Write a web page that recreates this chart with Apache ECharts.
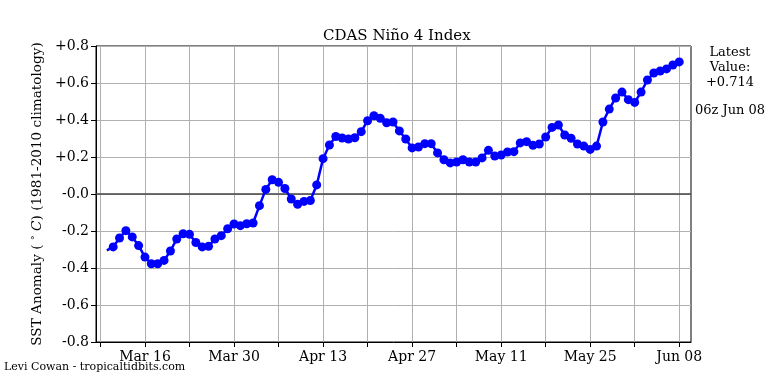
<!DOCTYPE html>
<html>
<head>
<meta charset="utf-8">
<script src="https://cdn.jsdelivr.net/npm/echarts@6/dist/echarts.min.js"></script>
<style>
html,body{margin:0;padding:0;background:#fff;}
#chart{width:768px;height:384px;}
</style>
</head>
<body>
<div id="chart"></div>
<script>
// ---- data ----
var startDate = '2023-03-10';           // first value's date (line start, no marker)
var values = [
  -0.305,
  -0.286, -0.238, -0.198, -0.232, -0.279, -0.341, -0.377, -0.377, -0.359, -0.308,
  -0.243, -0.215, -0.218, -0.262, -0.286, -0.283, -0.243, -0.225, -0.188, -0.162,
  -0.171, -0.161, -0.157, -0.063, 0.025, 0.077, 0.063, 0.030, -0.027, -0.056,
  -0.040, -0.035, 0.049, 0.191, 0.265, 0.311, 0.303, 0.297, 0.304, 0.337,
  0.396, 0.423, 0.409, 0.385, 0.389, 0.341, 0.297, 0.249, 0.254, 0.272,
  0.272, 0.222, 0.185, 0.168, 0.173, 0.185, 0.173, 0.173, 0.195, 0.236,
  0.205, 0.211, 0.227, 0.229, 0.276, 0.283, 0.263, 0.270, 0.308, 0.360,
  0.373, 0.319, 0.301, 0.270, 0.259, 0.241, 0.259, 0.389, 0.459, 0.519,
  0.551, 0.510, 0.495, 0.551, 0.616, 0.654, 0.665, 0.676, 0.697, 0.714
];
var gridDates = ['2023-03-09','2023-03-16','2023-03-23','2023-03-30','2023-04-06','2023-04-13',
  '2023-04-20','2023-04-27','2023-05-04','2023-05-11','2023-05-18','2023-05-25','2023-06-01','2023-06-08'];
var labelDates = ['2023-03-16','2023-03-30','2023-04-13','2023-04-27','2023-05-11','2023-05-25','2023-06-08'];
var tickLabels = ['Mar 16','Mar 30','Apr 13','Apr 27','May 11','May 25','Jun 08'];
var xMinDate = '2023-03-08T07:12:00Z';
var xMaxDate = '2023-06-09T20:24:00Z';
var latestText = 'Latest\nValue:\n+0.714';
var latestTime = '06z Jun 08';

// ---- build ----
var DAY = 86400000;
function ts(s){ return s.length > 10 ? Date.parse(s) : Date.parse(s + 'T00:00:00Z'); }
var origin = ts(gridDates[0]);
function dayOf(s){ return (ts(s) - origin) / DAY; }
var d0 = dayOf(startDate);
var seriesData = values.map(function(v, i){
  var item = { value: [d0 + i, v] };
  if (i === 0) item.symbol = 'none';
  return item;
});
var labelMap = {};
labelDates.forEach(function(d, i){ labelMap[Math.round(dayOf(d))] = tickLabels[i]; });

var FONT = 'DejaVu Serif';
var chart = echarts.init(document.getElementById('chart'), null, {renderer: 'canvas'});
chart.setOption({
  backgroundColor: '#ffffff',
  animation: false,
  title: {
    text: 'CDAS Niño 4 Index',
    left: 318, top: 24,
    textStyle: { fontFamily: FONT, fontSize: 15, fontWeight: 'normal', color: '#000' }
  },
  grid: { left: 96, right: 77, top: 46, bottom: 42, show: true, borderColor: '#000', borderWidth: 1, backgroundColor: 'transparent' },
  xAxis: {
    type: 'value',
    min: dayOf(xMinDate), max: dayOf(xMaxDate),
    axisLine: { show: true, onZero: false, lineStyle: { color: '#000', width: 1 } },
    axisTick: { show: true, inside: false, length: 5, customValues: gridDates.map(dayOf), lineStyle: { color: '#000', width: 1 } },
    axisLabel: {
      customValues: labelDates.map(dayOf),
      formatter: function(v){ return labelMap[Math.round(v)] || ''; },
      fontFamily: FONT, fontSize: 14, color: '#000', margin: 8
    },
    splitLine: { show: true, lineStyle: { color: '#b0b0b0', width: 1 } }
  },
  yAxis: {
    type: 'value',
    min: -0.8, max: 0.8, interval: 0.2,
    name: '{n|SST Anomaly ( }{s|°}{i| C}{n|) (1981-2010 climatology)}',
    nameLocation: 'middle', nameGap: 52, nameRotate: 90,
    nameTextStyle: {
      fontFamily: FONT, fontSize: 13.6, color: '#000',
      rich: {
        n: { fontFamily: FONT, fontSize: 13.6, color: '#000' },
        s: { fontFamily: FONT, fontSize: 10, color: '#000', verticalAlign: 'top', padding: [0,0,4,0] },
        i: { fontFamily: FONT, fontSize: 13.6, color: '#000', fontStyle: 'italic' }
      }
    },
    axisLine: { show: true, onZero: false, lineStyle: { color: '#000', width: 1 } },
    axisTick: { show: true, inside: false, length: 5, lineStyle: { color: '#000', width: 1 } },
    axisLabel: {
      fontFamily: FONT, fontSize: 14, color: '#000', margin: 7,
      formatter: function(v){
        var r = Math.round(v * 10) / 10;
        return (r > 0 ? '+' : '-') + Math.abs(r).toFixed(1);
      }
    },
    splitLine: { show: true, lineStyle: { color: '#b0b0b0', width: 1 } }
  },
  series: [{
    type: 'line',
    data: seriesData,
    symbol: 'circle', symbolSize: 9, showSymbol: true,
    lineStyle: { color: '#0000ff', width: 2.5 },
    itemStyle: { color: '#0000ff' },
    z: 5,
    markLine: {
      silent: true, symbol: 'none', label: { show: false },
      lineStyle: { color: '#444444', width: 1.5, type: 'solid' },
      data: [{ yAxis: 0 }],
      z: 3
    }
  }],
  graphic: [
    { type: 'text', left: 4, top: 362, style: { text: 'Levi Cowan - tropicaltidbits.com', fontFamily: FONT, fontSize: 11, fill: '#000' } },
    { type: 'text', x: 730, y: 45, style: { text: latestText, fontFamily: FONT, fontSize: 13, fill: '#000', align: 'center', lineHeight: 15 } },
    { type: 'text', x: 730, y: 104, style: { text: latestTime, fontFamily: FONT, fontSize: 13, fill: '#000', align: 'center' } }
  ]
});
</script>
</body>
</html>
